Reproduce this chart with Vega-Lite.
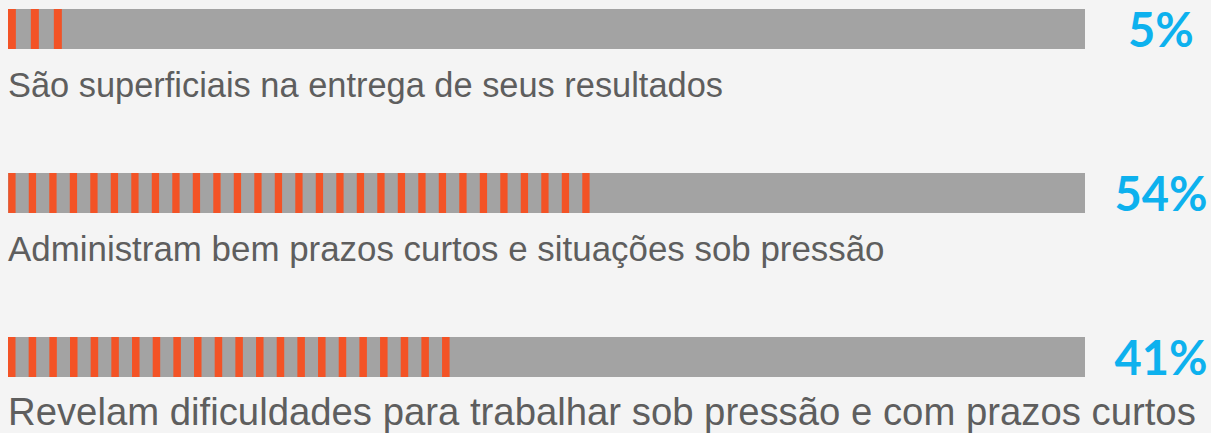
{
  "$schema": "https://vega.github.io/schema/vega-lite/v6.json",
  "width": 1211,
  "height": 433,
  "padding": 0,
  "autosize": "none",
  "background": "#f4f4f4",
  "config": {"view": {"stroke": null}},
  "data": {
    "values": [
      {"label": "São superficiais na entrega de seus resultados", "pct": 5, "pctLabel": "5%"},
      {"label": "Administram bem prazos curtos e situações sob pressão", "pct": 54, "pctLabel": "54%"},
      {"label": "Revelam dificuldades para trabalhar sob pressão e com prazos curtos", "pct": 41, "pctLabel": "41%"}
    ]
  },
  "layer": [
    {
      "mark": {"type": "bar", "height": 40, "color": "#a3a3a3"},
      "encoding": {
        "y": {"field": "label", "type": "nominal", "sort": null, "scale": {"type": "point", "range": [29, 357], "padding": 0}, "axis": null},
        "x": {"datum": 100, "type": "quantitative", "scale": {"domain": [0, 100], "range": [8, 1085]}, "axis": null}
      }
    },
    {
      "mark": {"type": "rule", "strokeWidth": 40, "color": "#f35326", "strokeCap": "butt"},
      "encoding": {
        "y": {"field": "label", "type": "nominal", "sort": null},
        "x": {"field": "pct", "type": "quantitative"},
        "x2": {"datum": 0},
        "strokeDash": {
          "field": "label",
          "type": "nominal",
          "scale": {
            "domain": [
              "São superficiais na entrega de seus resultados",
              "Administram bem prazos curtos e situações sob pressão",
              "Revelam dificuldades para trabalhar sob pressão e com prazos curtos"
            ],
            "range": [[8, 15], [7.3, 13.2], [7.5, 13.17]]
          },
          "legend": null
        }
      }
    },
    {
      "mark": {"type": "text", "align": "left", "baseline": "alphabetic", "dy": 68, "font": "Liberation Sans", "color": "#5e5e5e"},
      "encoding": {
        "y": {"field": "label", "type": "nominal", "sort": null},
        "x": {"datum": 0, "type": "quantitative"},
        "text": {"field": "label", "type": "nominal"},
        "size": {
          "field": "label",
          "type": "nominal",
          "scale": {
            "type": "ordinal",
            "domain": [
              "São superficiais na entrega de seus resultados",
              "Administram bem prazos curtos e situações sob pressão",
              "Revelam dificuldades para trabalhar sob pressão e com prazos curtos"
            ],
            "range": [34.4, 34.9, 38.3]
          },
          "legend": null
        }
      }
    },
    {
      "mark": {"type": "text", "align": "center", "baseline": "alphabetic", "dx": 76, "dy": 18, "font": "Lato", "fontWeight": "bold", "fontSize": 47, "color": "#0db1ee"},
      "encoding": {
        "y": {"field": "label", "type": "nominal", "sort": null},
        "x": {"datum": 100, "type": "quantitative"},
        "text": {"field": "pctLabel", "type": "nominal"}
      }
    }
  ]
}
